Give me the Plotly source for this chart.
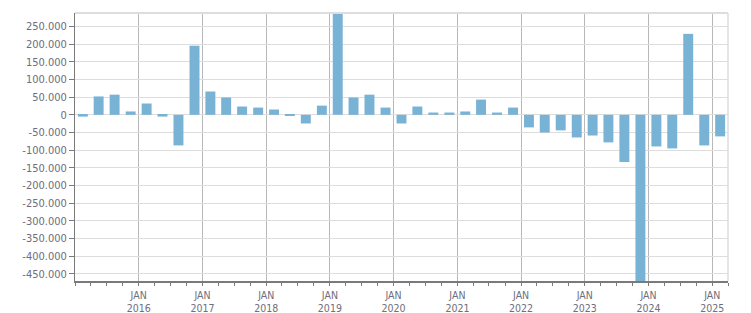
import pandas as pd
import plotly.graph_objects as go

# Quarterly values (2015 Q1 .. 2025 Q1)
quarters = [
    "2015Q1", "2015Q2", "2015Q3", "2015Q4",
    "2016Q1", "2016Q2", "2016Q3", "2016Q4",
    "2017Q1", "2017Q2", "2017Q3", "2017Q4",
    "2018Q1", "2018Q2", "2018Q3", "2018Q4",
    "2019Q1", "2019Q2", "2019Q3", "2019Q4",
    "2020Q1", "2020Q2", "2020Q3", "2020Q4",
    "2021Q1", "2021Q2", "2021Q3", "2021Q4",
    "2022Q1", "2022Q2", "2022Q3", "2022Q4",
    "2023Q1", "2023Q2", "2023Q3", "2023Q4",
    "2024Q1", "2024Q2", "2024Q3", "2024Q4",
    "2025Q1",
]
values = [
    -5000, 52000, 57000, 9500,
    32000, -5000, -86500, 195500,
    66000, 49000, 23500, 20500,
    15000, -2000, -24500, 26000,
    287000, 49000, 57000, 20500,
    -24500, 23500, 6500, 6500,
    9500, 43000, 6500, 20500,
    -35500, -50000, -44000, -64000,
    -58500, -78000, -133500, -470000,
    -89500, -95000, 229000, -86500,
    -61000,
]
year_ticks = [2016, 2017, 2018, 2019, 2020, 2021, 2022, 2023, 2024, 2025]
y_ticks = list(range(-450000, 250001, 50000))

def fmt(v):
    s = f"{abs(v):,}".replace(",", ".")
    return ("-" if v < 0 else "") + s

periods = [pd.Period(q, freq="Q") for q in quarters]
x_mid = [p.start_time + (p.end_time - p.start_time) / 2 for p in periods]

bar_color = "#78b2d4"
text_color = "#6e6e7c"
font_family = "DejaVu Sans Condensed, DejaVu Sans, sans-serif"

fig = go.Figure(go.Bar(
    x=x_mid, y=values,
    width=[57 * 86400000] * len(values),
    marker=dict(color=bar_color, line=dict(width=0)),
))

fig.update_layout(
    width=751, height=313,
    margin=dict(l=75, r=23, t=13, b=32),
    paper_bgcolor="white", plot_bgcolor="white",
    showlegend=False,
    separators=",.",
    font=dict(family=font_family, size=11, color=text_color),
    shapes=[
        dict(type="line", xref="paper", yref="paper", x0=0, x1=1, y0=1, y1=1,
             line=dict(color="#dddddd", width=2)),
        dict(type="line", xref="paper", yref="paper", x0=1, x1=1, y0=0, y1=1,
             line=dict(color="#dddddd", width=1.5)),
    ],
)

fig.update_xaxes(
    type="date",
    automargin=False,
    range=["2015-01-01", "2025-04-01"],
    tickvals=[pd.Timestamp(f"{y}-01-01") for y in year_ticks],
    ticktext=[f"JAN<br>{y}" for y in year_ticks],
    showgrid=True, gridcolor="#b8b8b8", gridwidth=1,
    showline=True, linecolor="#7a7a7a", linewidth=2,
    ticks="outside", ticklen=3, tickcolor="#7a7a7a",
    tickfont=dict(size=10.5, color=text_color),
    minor=dict(dtick="M3", tick0="2015-01-01", ticks="outside", ticklen=3,
               tickcolor="#7a7a7a", showgrid=False),
    fixedrange=True,
)

fig.update_yaxes(
    automargin=False,
    range=[-470000, 288000],
    tickvals=y_ticks,
    ticktext=[fmt(v) for v in y_ticks],
    showgrid=True, gridcolor="#dddddd", gridwidth=1,
    zeroline=False,
    showline=True, linecolor="#7a7a7a", linewidth=1,
    ticks="outside", ticklen=5, tickcolor="#7a7a7a",
    tickfont=dict(size=11, color=text_color),
    fixedrange=True,
)

fig.write_html("out.html", config={"displayModeBar": False})
